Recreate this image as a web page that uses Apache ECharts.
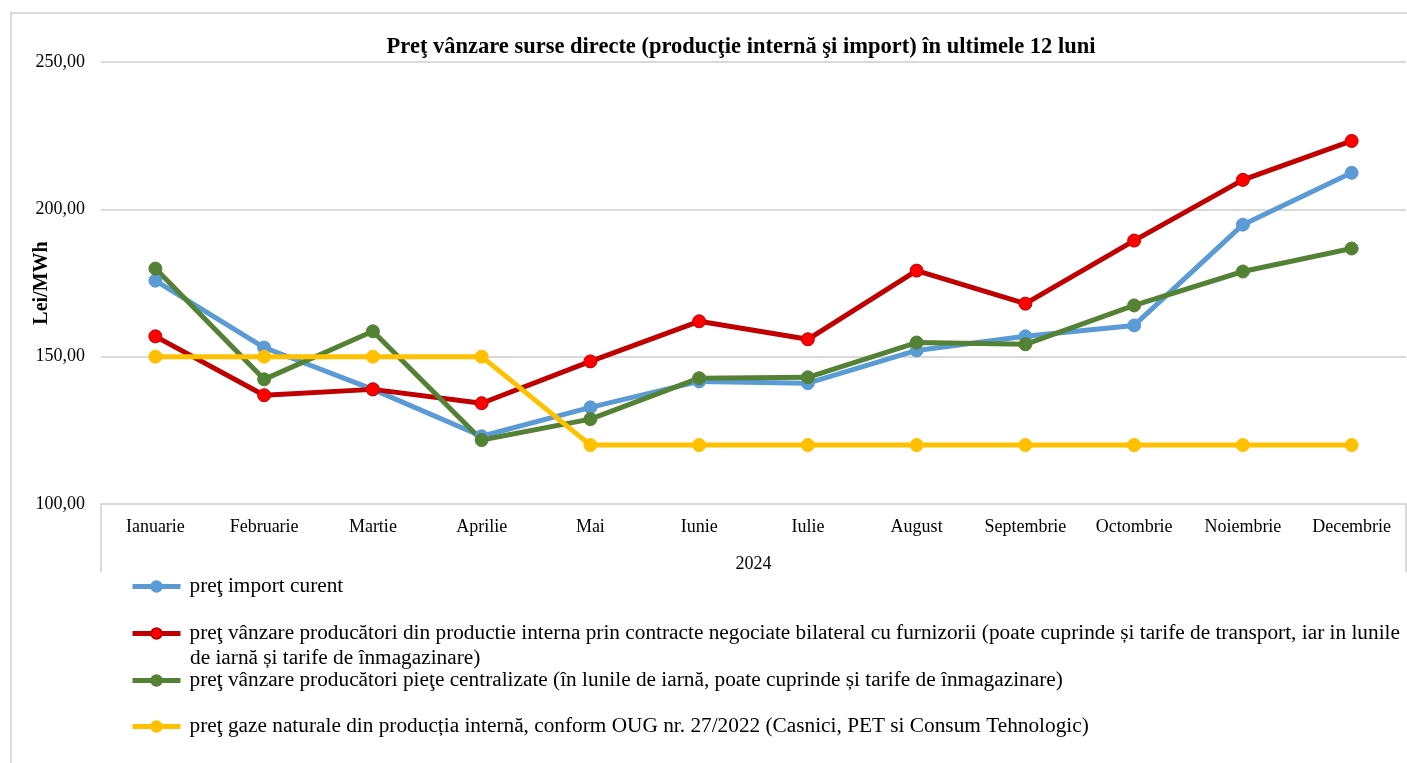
<!DOCTYPE html>
<html>
<head>
<meta charset="utf-8">
<script src="https://cdn.jsdelivr.net/npm/echarts@6/dist/echarts.min.js"></script>
<style>
  html, body { margin: 0; padding: 0; background: #fff; }
  #chart { width: 1407px; height: 763px; }
</style>
</head>
<body>
<div id="chart"></div>
<script>
  const luni = ['Ianuarie', 'Februarie', 'Martie', 'Aprilie', 'Mai', 'Iunie', 'Iulie', 'August', 'Septembrie', 'Octombrie', 'Noiembrie', 'Decembrie'];
  const pretImport = [175.8, 153.1, 138.9, 123.0, 132.8, 141.6, 141.0, 152.1, 156.9, 160.6, 194.8, 212.4];
  const pretBilateral = [156.9, 136.9, 138.9, 134.2, 148.4, 162.0, 155.9, 179.2, 168.0, 189.4, 210.0, 223.2];
  const pretCentralizat = [179.9, 142.3, 158.6, 121.7, 128.8, 142.7, 143.0, 154.8, 154.2, 167.4, 178.9, 186.7];
  const pretOUG = [150, 150, 150, 150, 120, 120, 120, 120, 120, 120, 120, 120];
  const anul = '2024';

  const numeImport = 'preţ import curent';
  const numeBilateral = 'preţ vânzare producători din productie interna prin contracte negociate bilateral cu furnizorii (poate cuprinde și tarife de transport, iar in lunile de iarnă și tarife de înmagazinare)';
  const numeCentralizat = 'preţ vânzare producători pieţe centralizate (în lunile de iarnă, poate cuprinde și tarife de înmagazinare)';
  const numeOUG = 'preţ gaze naturale din producția internă, conform OUG nr. 27/2022 (Casnici, PET si Consum Tehnologic)';
  // the long legend entry wraps after "lunile"
  const bilateralRand1 = 'preţ vânzare producători din productie interna prin contracte negociate bilateral cu furnizorii (poate cuprinde și tarife de transport, iar in lunile';
  const bilateralRand2 = 'de iarnă și tarife de înmagazinare)';

  const font = '"Liberation Serif", "Times New Roman", serif';
  const legendFont = { fontFamily: font, fontSize: 21.3, color: '#000', padding: [0, 0, 0, 4] };

  function legenda(name, top, extra) {
    return Object.assign({
      data: [name],
      left: 125,
      top: top,
      orient: 'vertical',
      itemWidth: 48,
      itemHeight: 13,
      selectedMode: false,
      lineStyle: { width: 5 },
      textStyle: legendFont
    }, extra || {});
  }

  function serie(name, data, color, fill) {
    return {
      name: name,
      type: 'line',
      data: data,
      symbol: 'circle',
      symbolSize: 13,
      lineStyle: { color: color, width: 5 },
      itemStyle: { color: fill || color, borderColor: color, borderWidth: 1 },
      emphasis: { disabled: true },
      z: 2
    };
  }

  let myChart = echarts.init(document.getElementById('chart'));
  myChart.setOption({
    backgroundColor: '#fff',
    animation: false,
    graphic: [{
      type: 'rect',
      shape: { x: 11, y: 13, width: 1420, height: 800 },
      style: { fill: 'none', stroke: '#d9d9d9', lineWidth: 2 },
      silent: true
    }, {
      type: 'text',
      left: 190,
      top: 648,
      style: { text: bilateralRand2, font: '21.3px ' + font, fill: '#000' },
      silent: true
    }],
    title: {
      text: 'Preţ vânzare surse directe (producţie internă şi import) în ultimele 12 luni',
      left: 736,
      top: 31,
      textAlign: 'center',
      textStyle: { fontFamily: font, fontSize: 22.5, fontWeight: 'bold', color: '#000' }
    },
    legend: [
      legenda(numeImport, 571),
      legenda(numeBilateral, 618, { formatter: function () { return bilateralRand1; } }),
      legenda(numeCentralizat, 665),
      legenda(numeOUG, 711)
    ],
    grid: { left: 101, right: 1, top: 62, bottom: 259, outerBoundsMode: 'none' },
    xAxis: [{
      type: 'category',
      data: luni,
      boundaryGap: true,
      axisLine: { lineStyle: { color: '#d9d9d9', width: 2 } },
      axisTick: { show: false },
      axisLabel: { fontFamily: font, fontSize: 18, color: '#000', margin: 14, interval: 0 }
    }, {
      type: 'value',
      min: 0,
      max: 1,
      interval: 1,
      position: 'bottom',
      name: anul,
      nameLocation: 'middle',
      nameGap: 51,
      nameMoveOverlap: false,
      nameTextStyle: { fontFamily: font, fontSize: 18, color: '#000' },
      axisLine: { show: false },
      axisTick: { show: true, length: 68, lineStyle: { color: '#d9d9d9', width: 2 } },
      axisLabel: { show: false },
      splitLine: { show: false }
    }],
    yAxis: {
      type: 'value',
      min: 100,
      max: 250,
      interval: 50,
      name: 'Lei/MWh',
      nameLocation: 'middle',
      nameGap: 49,
      nameRotate: 90,
      nameMoveOverlap: false,
      nameTextStyle: { fontFamily: font, fontSize: 20, fontWeight: 'bold', color: '#000' },
      axisLine: { show: false },
      axisTick: { show: false },
      axisLabel: {
        fontFamily: font, fontSize: 18, color: '#000', margin: 16,
        formatter: function (v) { return v.toFixed(2).replace('.', ','); }
      },
      splitLine: { lineStyle: { color: '#d9d9d9', width: 2 } }
    },
    series: [
      serie(numeImport, pretImport, '#5b9bd5'),
      serie(numeBilateral, pretBilateral, '#c00000', '#ff0000'),
      serie(numeCentralizat, pretCentralizat, '#548235'),
      serie(numeOUG, pretOUG, '#ffc000')
    ]
  });
</script>
</body>
</html>
